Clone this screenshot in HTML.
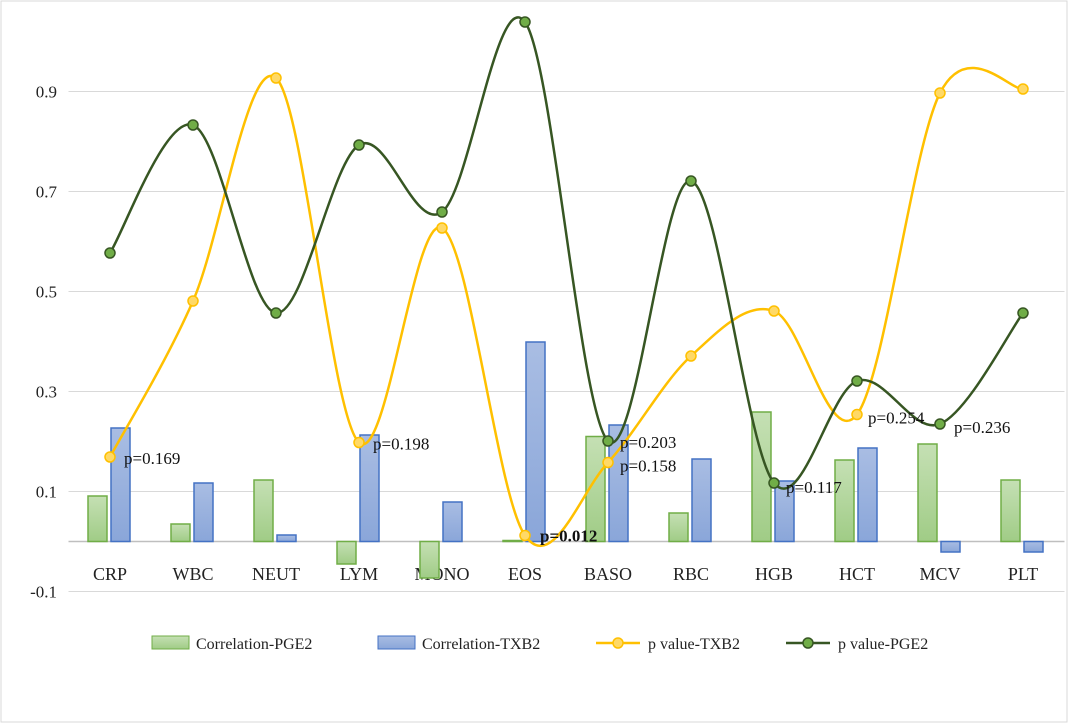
<!DOCTYPE html>
<html><head><meta charset="utf-8"><style>
body{margin:0;background:#fff}
svg{display:block;font-family:"Liberation Serif",serif}
</style></head><body>
<svg id="c" width="1069" height="724">
<defs>
<linearGradient id="gg" x1="0" y1="0" x2="0" y2="1"><stop offset="0" stop-color="#c5e0b4"/><stop offset="1" stop-color="#a0cc86"/></linearGradient>
<linearGradient id="bg" x1="0" y1="0" x2="0" y2="1"><stop offset="0" stop-color="#a9bde3"/><stop offset="1" stop-color="#8aa6d9"/></linearGradient>
</defs>
<rect x="1" y="1" width="1066" height="721" fill="#fff" stroke="#d9d9d9"/>
<g id="grid"></g><g id="bars"></g><g id="lines"></g><g id="labels"></g>
<g id="legend" font-size="16" fill="#222">
<g><rect x="152" y="636" width="37" height="13" fill="url(#gg)" stroke="#70ad47"/><text x="196" y="649">Correlation-PGE2</text></g>
<g><rect x="378" y="636" width="37" height="13" fill="url(#bg)" stroke="#4472c4"/><text x="422" y="649">Correlation-TXB2</text></g>
<g><line x1="596" y1="643" x2="640" y2="643" stroke="#ffc000" stroke-width="2.5"/><circle cx="618" cy="643" r="5" fill="#ffd966" stroke="#ffc000" stroke-width="1.5"/><text x="648" y="649">p value-TXB2</text></g>
<g><line x1="786" y1="643" x2="830" y2="643" stroke="#375623" stroke-width="2.5"/><circle cx="808" cy="643" r="5" fill="#70ad47" stroke="#375623" stroke-width="1.5"/><text x="838" y="649">p value-PGE2</text></g>
</g>
</svg>
<script>
const categories=["CRP","WBC","NEUT","LYM","MONO","EOS","BASO","RBC","HGB","HCT","MCV","PLT"];
const corrPGE2=[0.091,0.035,0.123,-0.045,-0.073,0.002,0.21,0.057,0.259,0.163,0.195,0.123];
const corrTXB2=[0.227,0.117,0.013,0.213,0.079,0.399,0.233,0.165,0.121,0.187,-0.021,-0.021];
const pTXB2=[0.169,0.481,0.927,0.198,0.627,0.012,0.158,0.371,0.461,0.254,0.897,0.905];
const pPGE2=[0.577,0.833,0.457,0.793,0.659,1.039,0.201,0.721,0.117,0.321,0.235,0.457];
const yTicks=[0.9,0.7,0.5,0.3,0.1,-0.1];
const yTickLabels=["0.9","0.7","0.5","0.3","0.1","-0.1"];
const annotations=[
 {s:"t",i:0,t:"p=0.169",dx:14,dy:7,b:false},
 {s:"t",i:3,t:"p=0.198",dx:14,dy:7,b:false},
 {s:"t",i:5,t:"p=0.012",dx:15,dy:6,b:true},
 {s:"p",i:6,t:"p=0.203",dx:12,dy:7,b:false},
 {s:"t",i:6,t:"p=0.158",dx:12,dy:9,b:false},
 {s:"p",i:8,t:"p=0.117",dx:12,dy:10,b:false},
 {s:"t",i:9,t:"p=0.254",dx:11,dy:9,b:false},
 {s:"p",i:10,t:"p=0.236",dx:14,dy:9,b:false}];
const NS="http://www.w3.org/2000/svg";
const L=68.5,step=83,y0=541.5,k=500;
const X=i=>L+step*(i+0.5), Y=v=>y0-v*k;
function mk(t,a,p){const e=document.createElementNS(NS,t);for(const q in a)e.setAttribute(q,a[q]);p.appendChild(e);return e;}
const g=document.getElementById('grid');
yTicks.forEach((v,j)=>{
 const l=mk('line',{x1:L,x2:L+step*12,y1:Y(v),y2:Y(v),stroke:'#d9d9d9','stroke-width':1},g);
 
 
 const t=mk('text',{x:57,y:Y(v)+6,'text-anchor':'end','font-size':17,fill:'#222'},g);t.textContent=yTickLabels[j];
 
 
});
const ax=mk('line',{x1:L,x2:L+step*12,y1:Y(0),y2:Y(0),stroke:'#bfbfbf','stroke-width':1.5},g);


categories.forEach((c,i)=>{
 const t=mk('text',{x:X(i),y:580,'text-anchor':'middle','font-size':18,fill:'#222'},g);t.textContent=c;
 
 
});
const b=document.getElementById('bars');
function bar(v,x,f,s){const r=mk('rect',{x:x,width:19,y:Math.min(Y(v),Y(0)),height:Math.abs(Y(v)-Y(0)),fill:f,stroke:s,'stroke-width':1.5},b);return r;}
categories.forEach((c,i)=>{
 const r1=bar(corrPGE2[i],X(i)-22,'url(#gg)','#70ad47');
 
 
 const r2=bar(corrTXB2[i],X(i)+1,'url(#bg)','#4472c4');
 
 
});
const lg=document.getElementById('lines');
function path(vals){const P=vals.map((v,i)=>[X(i),Y(v)]);let d='M'+P[0];for(let i=0;i<P.length-1;i++){const p0=P[i-1]||P[i],p1=P[i],p2=P[i+1],p3=P[i+2]||P[i+1];d+=' C'+(p1[0]+(p2[0]-p0[0])/6)+','+(p1[1]+(p2[1]-p0[1])/6)+' '+(p2[0]-(p3[0]-p1[0])/6)+','+(p2[1]-(p3[1]-p1[1])/6)+' '+p2;}return d;}
function series(vals,stroke,fill,name){
 const p=mk('path',{d:path(vals),fill:'none',stroke:stroke,'stroke-width':2.5},lg);
 
 
 vals.forEach((v,i)=>{const c=mk('circle',{cx:X(i),cy:Y(v),r:5,fill:fill,stroke:stroke,'stroke-width':1.5},lg);
 
 });
}
series(pTXB2,'#ffc000','#ffd966','p-value-txb2');
series(pPGE2,'#375623','#70ad47','p-value-pge2');
const la=document.getElementById('labels');
annotations.forEach(a=>{const v=(a.s=='t'?pTXB2:pPGE2)[a.i];
 const t=mk('text',{x:X(a.i)+a.dx,y:Y(v)+a.dy,'font-size':17,fill:'#111','font-weight':a.b?'bold':'normal'},la);t.textContent=a.t;
 
 });
</script>
</body></html>
